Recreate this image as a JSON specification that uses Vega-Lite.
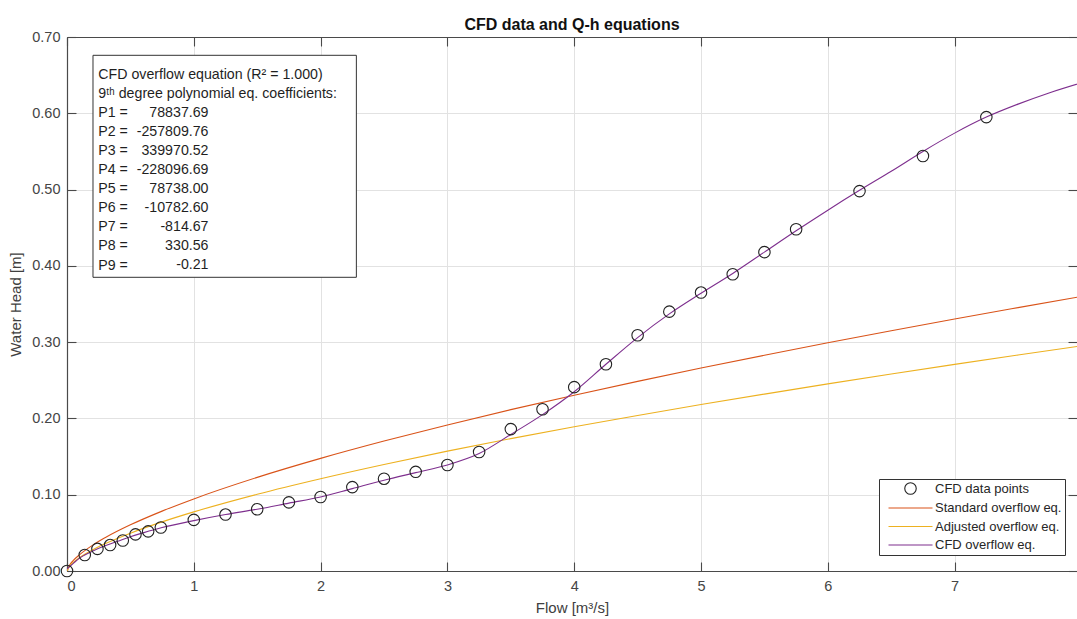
{
  "$schema": "https://vega.github.io/schema/vega-lite/v6.json",
  "width": 1010,
  "height": 534,
  "autosize": {"type": "none"},
  "padding": {"left": 67, "top": 37, "right": 0, "bottom": 48},
  "background": "white",
  "title": {"text": "CFD data and Q-h equations", "fontSize": 16, "fontWeight": "bold", "color": "#111111", "anchor": "middle", "frame": "group", "baseline": "alphabetic", "offset": 9, "dy": 26, "font": "Liberation Sans"},
  "datasets": {
    "points": [
      {"Q": 0.0, "h": 0.000, "series": "CFD data points"},
      {"Q": 0.14, "h": 0.021, "series": "CFD data points"},
      {"Q": 0.24, "h": 0.029, "series": "CFD data points"},
      {"Q": 0.34, "h": 0.034, "series": "CFD data points"},
      {"Q": 0.44, "h": 0.040, "series": "CFD data points"},
      {"Q": 0.54, "h": 0.048, "series": "CFD data points"},
      {"Q": 0.64, "h": 0.052, "series": "CFD data points"},
      {"Q": 0.74, "h": 0.057, "series": "CFD data points"},
      {"Q": 1.0, "h": 0.067, "series": "CFD data points"},
      {"Q": 1.25, "h": 0.074, "series": "CFD data points"},
      {"Q": 1.5, "h": 0.081, "series": "CFD data points"},
      {"Q": 1.75, "h": 0.090, "series": "CFD data points"},
      {"Q": 2.0, "h": 0.097, "series": "CFD data points"},
      {"Q": 2.25, "h": 0.110, "series": "CFD data points"},
      {"Q": 2.5, "h": 0.121, "series": "CFD data points"},
      {"Q": 2.75, "h": 0.130, "series": "CFD data points"},
      {"Q": 3.0, "h": 0.139, "series": "CFD data points"},
      {"Q": 3.25, "h": 0.156, "series": "CFD data points"},
      {"Q": 3.5, "h": 0.186, "series": "CFD data points"},
      {"Q": 3.75, "h": 0.212, "series": "CFD data points"},
      {"Q": 4.0, "h": 0.241, "series": "CFD data points"},
      {"Q": 4.25, "h": 0.271, "series": "CFD data points"},
      {"Q": 4.5, "h": 0.309, "series": "CFD data points"},
      {"Q": 4.75, "h": 0.340, "series": "CFD data points"},
      {"Q": 5.0, "h": 0.365, "series": "CFD data points"},
      {"Q": 5.25, "h": 0.389, "series": "CFD data points"},
      {"Q": 5.5, "h": 0.418, "series": "CFD data points"},
      {"Q": 5.75, "h": 0.448, "series": "CFD data points"},
      {"Q": 6.25, "h": 0.498, "series": "CFD data points"},
      {"Q": 6.75, "h": 0.544, "series": "CFD data points"},
      {"Q": 7.25, "h": 0.595, "series": "CFD data points"}
    ],
    "lines": [
      {"Q": 0, "h": 0, "series": "Standard overflow eq."},
      {"Q": 0.02, "h": 0.0076, "series": "Standard overflow eq."},
      {"Q": 0.05, "h": 0.0138, "series": "Standard overflow eq."},
      {"Q": 0.1, "h": 0.0215, "series": "Standard overflow eq."},
      {"Q": 0.2, "h": 0.0336, "series": "Standard overflow eq."},
      {"Q": 0.3, "h": 0.0436, "series": "Standard overflow eq."},
      {"Q": 0.5, "h": 0.0605, "series": "Standard overflow eq."},
      {"Q": 0.75, "h": 0.0785, "series": "Standard overflow eq."},
      {"Q": 1, "h": 0.0945, "series": "Standard overflow eq."},
      {"Q": 1.5, "h": 0.1227, "series": "Standard overflow eq."},
      {"Q": 2, "h": 0.1476, "series": "Standard overflow eq."},
      {"Q": 2.5, "h": 0.1703, "series": "Standard overflow eq."},
      {"Q": 3, "h": 0.1915, "series": "Standard overflow eq."},
      {"Q": 3.5, "h": 0.2115, "series": "Standard overflow eq."},
      {"Q": 4, "h": 0.2304, "series": "Standard overflow eq."},
      {"Q": 4.5, "h": 0.2486, "series": "Standard overflow eq."},
      {"Q": 5, "h": 0.2660, "series": "Standard overflow eq."},
      {"Q": 5.5, "h": 0.2828, "series": "Standard overflow eq."},
      {"Q": 6, "h": 0.2991, "series": "Standard overflow eq."},
      {"Q": 6.5, "h": 0.3149, "series": "Standard overflow eq."},
      {"Q": 7, "h": 0.3303, "series": "Standard overflow eq."},
      {"Q": 7.5, "h": 0.3452, "series": "Standard overflow eq."},
      {"Q": 8, "h": 0.3599, "series": "Standard overflow eq."},
      {"Q": 0, "h": 0, "series": "Adjusted overflow eq."},
      {"Q": 0.02, "h": 0.0063, "series": "Adjusted overflow eq."},
      {"Q": 0.05, "h": 0.0113, "series": "Adjusted overflow eq."},
      {"Q": 0.1, "h": 0.0176, "series": "Adjusted overflow eq."},
      {"Q": 0.2, "h": 0.0275, "series": "Adjusted overflow eq."},
      {"Q": 0.3, "h": 0.0357, "series": "Adjusted overflow eq."},
      {"Q": 0.5, "h": 0.0496, "series": "Adjusted overflow eq."},
      {"Q": 0.75, "h": 0.0644, "series": "Adjusted overflow eq."},
      {"Q": 1, "h": 0.0775, "series": "Adjusted overflow eq."},
      {"Q": 1.5, "h": 0.1006, "series": "Adjusted overflow eq."},
      {"Q": 2, "h": 0.1210, "series": "Adjusted overflow eq."},
      {"Q": 2.5, "h": 0.1397, "series": "Adjusted overflow eq."},
      {"Q": 3, "h": 0.1571, "series": "Adjusted overflow eq."},
      {"Q": 3.5, "h": 0.1735, "series": "Adjusted overflow eq."},
      {"Q": 4, "h": 0.1890, "series": "Adjusted overflow eq."},
      {"Q": 4.5, "h": 0.2039, "series": "Adjusted overflow eq."},
      {"Q": 5, "h": 0.2182, "series": "Adjusted overflow eq."},
      {"Q": 5.5, "h": 0.2319, "series": "Adjusted overflow eq."},
      {"Q": 6, "h": 0.2453, "series": "Adjusted overflow eq."},
      {"Q": 6.5, "h": 0.2583, "series": "Adjusted overflow eq."},
      {"Q": 7, "h": 0.2708, "series": "Adjusted overflow eq."},
      {"Q": 7.5, "h": 0.2831, "series": "Adjusted overflow eq."},
      {"Q": 8, "h": 0.2951, "series": "Adjusted overflow eq."},
      {"Q": 0, "h": 0.003, "series": "CFD overflow eq."},
      {"Q": 0.05, "h": 0.010, "series": "CFD overflow eq."},
      {"Q": 0.1, "h": 0.017, "series": "CFD overflow eq."},
      {"Q": 0.14, "h": 0.021, "series": "CFD overflow eq."},
      {"Q": 0.2, "h": 0.026, "series": "CFD overflow eq."},
      {"Q": 0.3, "h": 0.033, "series": "CFD overflow eq."},
      {"Q": 0.4, "h": 0.039, "series": "CFD overflow eq."},
      {"Q": 0.5, "h": 0.045, "series": "CFD overflow eq."},
      {"Q": 0.6, "h": 0.050, "series": "CFD overflow eq."},
      {"Q": 0.75, "h": 0.057, "series": "CFD overflow eq."},
      {"Q": 1.0, "h": 0.066, "series": "CFD overflow eq."},
      {"Q": 1.25, "h": 0.074, "series": "CFD overflow eq."},
      {"Q": 1.5, "h": 0.081, "series": "CFD overflow eq."},
      {"Q": 1.75, "h": 0.089, "series": "CFD overflow eq."},
      {"Q": 2.0, "h": 0.097, "series": "CFD overflow eq."},
      {"Q": 2.25, "h": 0.108, "series": "CFD overflow eq."},
      {"Q": 2.5, "h": 0.119, "series": "CFD overflow eq."},
      {"Q": 2.75, "h": 0.129, "series": "CFD overflow eq."},
      {"Q": 3.0, "h": 0.139, "series": "CFD overflow eq."},
      {"Q": 3.25, "h": 0.154, "series": "CFD overflow eq."},
      {"Q": 3.5, "h": 0.179, "series": "CFD overflow eq."},
      {"Q": 3.75, "h": 0.205, "series": "CFD overflow eq."},
      {"Q": 4.0, "h": 0.235, "series": "CFD overflow eq."},
      {"Q": 4.25, "h": 0.271, "series": "CFD overflow eq."},
      {"Q": 4.5, "h": 0.306, "series": "CFD overflow eq."},
      {"Q": 4.75, "h": 0.337, "series": "CFD overflow eq."},
      {"Q": 5.0, "h": 0.364, "series": "CFD overflow eq."},
      {"Q": 5.25, "h": 0.390, "series": "CFD overflow eq."},
      {"Q": 5.5, "h": 0.418, "series": "CFD overflow eq."},
      {"Q": 5.75, "h": 0.446, "series": "CFD overflow eq."},
      {"Q": 6.0, "h": 0.473, "series": "CFD overflow eq."},
      {"Q": 6.25, "h": 0.499, "series": "CFD overflow eq."},
      {"Q": 6.5, "h": 0.524, "series": "CFD overflow eq."},
      {"Q": 6.75, "h": 0.550, "series": "CFD overflow eq."},
      {"Q": 7.0, "h": 0.574, "series": "CFD overflow eq."},
      {"Q": 7.25, "h": 0.595, "series": "CFD overflow eq."},
      {"Q": 7.5, "h": 0.612, "series": "CFD overflow eq."},
      {"Q": 7.75, "h": 0.627, "series": "CFD overflow eq."},
      {"Q": 8.0, "h": 0.640, "series": "CFD overflow eq."}
    ]
  },
  "layer": [
    {
      "data": {"name": "lines"},
      "mark": {"type": "line", "strokeWidth": 1.1, "interpolate": "monotone", "clip": true},
      "encoding": {
        "x": {"field": "Q", "type": "quantitative", "scale": {"domain": [0, 7.965], "nice": false, "zero": false},
          "axis": {"orient": "bottom", "values": [0, 1, 2, 3, 4, 5, 6, 7], "format": "d", "title": "Flow [m³/s]", "grid": true, "tickSize": -9, "labelPadding": 17, "titlePadding": 8}},
        "y": {"field": "h", "type": "quantitative", "scale": {"domain": [0, 0.7], "nice": false, "zero": false},
          "axis": {"orient": "left", "values": [0, 0.1, 0.2, 0.3, 0.4, 0.5, 0.6, 0.7], "format": ".2f", "title": "Water Head [m]", "grid": true, "tickSize": -9, "labelPadding": 16, "titlePadding": 8}},
        "color": {"field": "series", "type": "nominal",
          "scale": {"domain": ["CFD data points", "Standard overflow eq.", "Adjusted overflow eq.", "CFD overflow eq."], "range": ["#222222", "#D95319", "#EDB120", "#7E2F8E"]},
          "legend": {"title": null}}
      }
    },
    {
      "data": {"name": "points"},
      "mark": {"type": "point", "filled": false, "size": 132, "strokeWidth": 1.1, "opacity": 1},
      "encoding": {
        "x": {"field": "Q", "type": "quantitative", "scale": {"domain": [0, 7.965], "nice": false, "zero": false},
          "axis": {"orient": "top", "values": [0, 1, 2, 3, 4, 5, 6, 7], "labels": false, "grid": false, "title": null, "tickSize": -9}},
        "y": {"field": "h", "type": "quantitative", "scale": {"domain": [0, 0.7], "nice": false, "zero": false},
          "axis": {"orient": "right", "values": [0, 0.1, 0.2, 0.3, 0.4, 0.5, 0.6, 0.7], "labels": false, "grid": false, "domain": false, "title": null, "tickSize": -9}},
        "color": {"field": "series", "type": "nominal",
          "scale": {"domain": ["CFD data points", "Standard overflow eq.", "Adjusted overflow eq.", "CFD overflow eq."], "range": ["#222222", "#D95319", "#EDB120", "#7E2F8E"]},
          "legend": {"title": null}},
        "shape": {"field": "series", "type": "nominal",
          "scale": {"domain": ["CFD data points", "Standard overflow eq.", "Adjusted overflow eq.", "CFD overflow eq."], "range": ["circle", "M-3.83,0L3.83,0", "M-3.83,0L3.83,0", "M-3.83,0L3.83,0"]},
          "legend": {"title": null}}
      }
    },
    {
      "data": {"values": [{"box": 1}]},
      "mark": {"type": "rect", "fill": "white", "stroke": "#333333", "strokeWidth": 1},
      "encoding": {
        "x": {"datum": 0.205, "type": "quantitative", "axis": null},
        "x2": {"datum": 2.282},
        "y": {"datum": 0.676, "type": "quantitative", "axis": null},
        "y2": {"datum": 0.385}
      }
    },
    {
      "data": {"values": [{"box": 1}]},
      "mark": {"type": "text", "align": "left", "baseline": "top", "lineHeight": 19.1, "fontSize": 14.2, "font": "Liberation Sans", "color": "#1f1f1f",
        "text": ["CFD overflow equation (R² = 1.000)", "9ᵗʰ degree polynomial eq. coefficients:", "P1 =", "P2 =", "P3 =", "P4 =", "P5 =", "P6 =", "P7 =", "P8 =", "P9 ="]},
      "encoding": {
        "x": {"datum": 0.247, "type": "quantitative", "axis": null},
        "y": {"datum": 0.66, "type": "quantitative", "axis": null}
      }
    },
    {
      "data": {"values": [{"box": 1}]},
      "mark": {"type": "text", "align": "right", "baseline": "top", "lineHeight": 19.1, "fontSize": 14.2, "font": "Liberation Sans", "color": "#1f1f1f",
        "text": ["78837.69", "-257809.76", "339970.52", "-228096.69", "78738.00", "-10782.60", "-814.67", "330.56", "-0.21"]},
      "encoding": {
        "x": {"datum": 1.116, "type": "quantitative", "axis": null},
        "y": {"datum": 0.61, "type": "quantitative", "axis": null}
      }
    }
  ],
  "resolve": {"axis": {"x": "independent", "y": "independent"}},
  "config": {
    "font": "Liberation Sans",
    "view": {"stroke": null},
    "axis": {
      "labelFont": "Liberation Sans", "labelFontSize": 14.5, "labelColor": "#454545",
      "titleFont": "Liberation Sans", "titleFontSize": 15, "titleFontWeight": "normal", "titleColor": "#404040",
      "domainColor": "#4a4a4a", "domainWidth": 1.2, "tickColor": "#4a4a4a", "tickWidth": 1.1,
      "gridColor": "#e2e2e2", "gridWidth": 1, "gridOpacity": 1
    },
    "legend": {
      "orient": "none", "legendX": 812, "legendY": 442,
      "strokeColor": "#333333", "fillColor": "white", "padding": 3, "rowPadding": 4.5,
      "symbolSize": 132, "symbolStrokeWidth": 1.1, "symbolOffset": 22, "labelOffset": 18,
      "symbolFillColor": "transparent",
      "labelFont": "Liberation Sans", "labelFontSize": 13, "labelColor": "#262626"
    }
  }
}
